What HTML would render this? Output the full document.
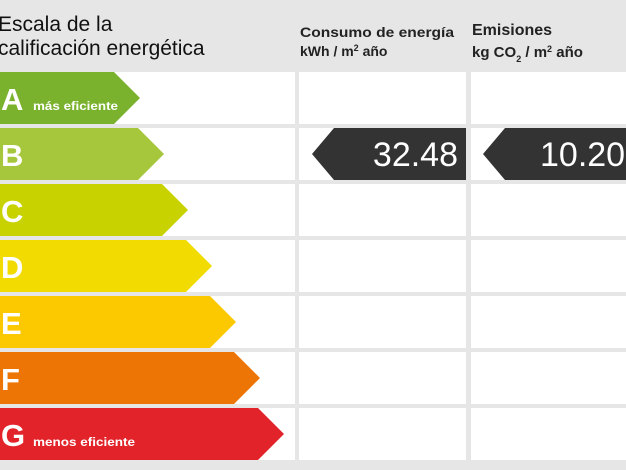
<!DOCTYPE html>
<html><head><meta charset="utf-8"><style>
html,body{margin:0;padding:0;background:#e6e6e6;}
svg{display:block;font-family:"Liberation Sans",Arial,sans-serif;}
</style></head><body>
<svg width="626" height="470" viewBox="0 0 626 470">
<rect width="626" height="470" fill="#e6e6e6"/>
<text x="-2" y="31" font-size="21" fill="#111">Escala de la</text>
<text x="-2" y="55" font-size="21" fill="#111">calificación energética</text>
<text x="300" y="37" font-size="14" font-weight="bold" fill="#222" textLength="154" lengthAdjust="spacingAndGlyphs">Consumo de energía</text>
<text x="300" y="56" font-size="14" font-weight="bold" fill="#222">kWh / m<tspan font-size="9" dy="-5">2</tspan><tspan dy="5"> año</tspan></text>
<text x="472" y="35" font-size="16" font-weight="bold" fill="#222">Emisiones</text>
<text x="472" y="57" font-size="15" font-weight="bold" fill="#222">kg CO<tspan font-size="9" dy="5">2</tspan><tspan dy="-5"> / m</tspan><tspan font-size="9" dy="-5">2</tspan><tspan dy="5"> año</tspan></text>
<g fill="#fff">
<rect x="0" y="72" width="295" height="52"/><rect x="299" y="72" width="167" height="52"/><rect x="471" y="72" width="155" height="52"/>
<rect x="0" y="128" width="295" height="52"/><rect x="299" y="128" width="167" height="52"/><rect x="471" y="128" width="155" height="52"/>
<rect x="0" y="184" width="295" height="52"/><rect x="299" y="184" width="167" height="52"/><rect x="471" y="184" width="155" height="52"/>
<rect x="0" y="240" width="295" height="52"/><rect x="299" y="240" width="167" height="52"/><rect x="471" y="240" width="155" height="52"/>
<rect x="0" y="296" width="295" height="52"/><rect x="299" y="296" width="167" height="52"/><rect x="471" y="296" width="155" height="52"/>
<rect x="0" y="352" width="295" height="52"/><rect x="299" y="352" width="167" height="52"/><rect x="471" y="352" width="155" height="52"/>
<rect x="0" y="408" width="295" height="52"/><rect x="299" y="408" width="167" height="52"/><rect x="471" y="408" width="155" height="52"/>
</g>
<polygon points="0,72 114,72 140,98 114,124 0,124" fill="#7ab22e"/>
<polygon points="0,128 138,128 164,154 138,180 0,180" fill="#a6c63c"/>
<polygon points="0,184 162,184 188,210 162,236 0,236" fill="#c8d200"/>
<polygon points="0,240 186,240 212,266 186,292 0,292" fill="#f2db00"/>
<polygon points="0,296 210,296 236,322 210,348 0,348" fill="#fcc800"/>
<polygon points="0,352 234,352 260,378 234,404 0,404" fill="#ec7505"/>
<polygon points="0,408 258,408 284,434 258,460 0,460" fill="#e3232a"/>
<g fill="#fff" font-weight="bold" font-size="31">
<text x="1" y="110">A</text><text x="1" y="166">B</text><text x="1" y="222">C</text>
<text x="1" y="278">D</text><text x="1" y="334">E</text><text x="1" y="390">F</text><text x="1" y="446">G</text>
</g>
<text x="33" y="110" font-size="12" font-weight="bold" fill="#fff" textLength="85" lengthAdjust="spacingAndGlyphs">más eficiente</text>
<text x="33" y="446" font-size="12" font-weight="bold" fill="#fff" textLength="102" lengthAdjust="spacingAndGlyphs">menos eficiente</text>
<polygon points="334,128 466,128 466,180 334,180 312,154" fill="#333"/>
<polygon points="505,128 626,128 626,180 505,180 483,154" fill="#333"/>
<text x="458" y="166" font-size="34" fill="#fff" text-anchor="end">32.48</text>
<text x="540" y="166" font-size="34" fill="#fff">10.20</text>
</svg>
</body></html>
